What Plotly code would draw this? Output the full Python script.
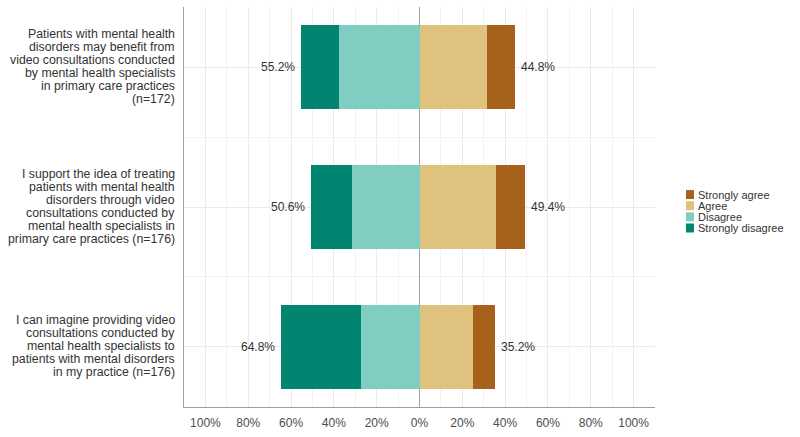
import plotly.graph_objects as go

# ---- data ----
categories = [
    "Patients with mental health\ndisorders may benefit from\nvideo consultations conducted\nby mental health specialists\nin primary care practices\n(n=172)",
    "I support the idea of treating\npatients with mental health\ndisorders through video\nconsultations conducted by\nmental health specialists in\nprimary care practices (n=176)",
    "I can imagine providing video\nconsultations conducted by\nmental health specialists to\npatients with mental disorders\nin my practice (n=176)",
]
strongly_disagree = [17.4, 19.3, 37.5]
disagree = [37.8, 31.3, 27.3]
agree = [31.4, 35.8, 25.0]
strongly_agree = [13.4, 13.6, 10.2]
disagree_total_labels = ["55.2%", "50.6%", "64.8%"]
agree_total_labels = ["44.8%", "49.4%", "35.2%"]
tick_values = [-100, -80, -60, -40, -20, 0, 20, 40, 60, 80, 100]
tick_labels = ["100%", "80%", "60%", "40%", "20%", "0%", "20%", "40%", "60%", "80%", "100%"]
legend_labels = ["Strongly agree", "Agree", "Disagree", "Strongly disagree"]

# ---- style ----
C_SA = "#A6611A"
C_A = "#DFC27D"
C_D = "#80CDC1"
C_SD = "#018571"
FONT = "Liberation Sans, Arial, sans-serif"
TXT = "#333333"

pos = [1, 2, 3]

fig = go.Figure()
fig.add_trace(go.Bar(y=pos, x=agree, orientation="h", marker=dict(color=C_A, line_width=0),
                     width=0.6, showlegend=False, name="Agree"))
fig.add_trace(go.Bar(y=pos, x=strongly_agree, orientation="h", marker=dict(color=C_SA, line_width=0),
                     width=0.6, showlegend=False, name="Strongly agree"))
fig.add_trace(go.Bar(y=pos, x=[-v for v in disagree], orientation="h", marker=dict(color=C_D, line_width=0),
                     width=0.6, showlegend=False, name="Disagree"))
fig.add_trace(go.Bar(y=pos, x=[-v for v in strongly_disagree], orientation="h", marker=dict(color=C_SD, line_width=0),
                     width=0.6, showlegend=False, name="Strongly disagree"))

annotations = []
# percent labels
for i, p in enumerate(pos):
    neg_total = disagree[i] + strongly_disagree[i]
    pos_total = agree[i] + strongly_agree[i]
    annotations.append(dict(x=-neg_total, y=p, xref="x", yref="y", text=disagree_total_labels[i],
                            showarrow=False, xanchor="right", yanchor="middle", xshift=-4,
                            font=dict(family=FONT, size=12, color=TXT)))
    annotations.append(dict(x=pos_total, y=p, xref="x", yref="y", text=agree_total_labels[i],
                            showarrow=False, xanchor="left", yanchor="middle", xshift=4,
                            font=dict(family=FONT, size=12, color=TXT)))

# category labels, one annotation per line for tight line spacing
PITCH = 13
for i, p in enumerate(pos):
    lines = categories[i].split("\n")
    n = len(lines)
    for j, ln in enumerate(lines):
        annotations.append(dict(x=0, y=p, xref="paper", yref="y", text=ln, showarrow=False,
                                xanchor="right", yanchor="middle", xshift=-7,
                                yshift=((n - 1) / 2 - j) * PITCH + 1,
                                font=dict(family=FONT, size=12.3, color=TXT)))

# manual legend
leg_colors = [C_SA, C_A, C_D, C_SD]
shapes = []
LX0, LX1 = 686, 694
LY_TOP = 191
LPITCH = 11.2
W, H = 800, 437
ML, MR, MT, MB = 184, 145, 7, 28
pw, ph = W - ML - MR, H - MT - MB
def px_to_paper_x(px):
    return (px - ML) / pw
def px_to_paper_y(py):
    return 1 - (py - MT) / ph
for k, (lab, col) in enumerate(zip(legend_labels, leg_colors)):
    y0 = LY_TOP + k * LPITCH
    shapes.append(dict(type="rect", xref="paper", yref="paper",
                       x0=px_to_paper_x(LX0), x1=px_to_paper_x(LX1),
                       y0=px_to_paper_y(y0 + 9), y1=px_to_paper_y(y0),
                       fillcolor=col, line_width=0, layer="above"))
    annotations.append(dict(x=px_to_paper_x(LX1 + 2), y=px_to_paper_y(y0 + 4.5), xref="paper", yref="paper",
                            text=lab, showarrow=False, xanchor="left", yanchor="middle",
                            font=dict(family=FONT, size=11, color=TXT)))

fig.update_layout(
    barmode="relative",
    width=W, height=H,
    margin=dict(l=ML, r=MR, t=MT, b=MB, pad=0),
    plot_bgcolor="white", paper_bgcolor="white",
    font=dict(family=FONT, size=12, color="#4D4D4D"),
    showlegend=False,
    annotations=annotations,
    shapes=shapes,
    bargap=0,
)
fig.update_xaxes(
    range=[-110, 110], tickvals=tick_values, ticktext=tick_labels,
    showgrid=True, gridcolor="#EBEBEB", gridwidth=1,
    minor=dict(tickvals=[-110, -90, -70, -50, -30, -10, 10, 30, 50, 70, 90, 110],
               showgrid=True, gridcolor="#F3F3F3", gridwidth=1),
    zeroline=True, zerolinecolor="#A0A0A0", zerolinewidth=1,
    showline=True, linecolor="#A0A0A0", linewidth=1,
    ticks="outside", ticklen=5, tickcolor="rgba(0,0,0,0)",
    tickfont=dict(family=FONT, size=12, color="#4D4D4D"),
    fixedrange=True,
)
fig.update_yaxes(
    range=[3.43, 0.57], tickvals=pos, ticktext=["", "", ""], showticklabels=False,
    showgrid=True, gridcolor="#EBEBEB", gridwidth=1,
    minor=dict(tickvals=[1.5, 2.5], showgrid=True, gridcolor="#F3F3F3", gridwidth=1),
    zeroline=False,
    showline=True, linecolor="#A0A0A0", linewidth=1,
    fixedrange=True,
)

fig.write_html("out.html", config={"displayModeBar": False},
               post_script="document.body.style.margin='0';")
